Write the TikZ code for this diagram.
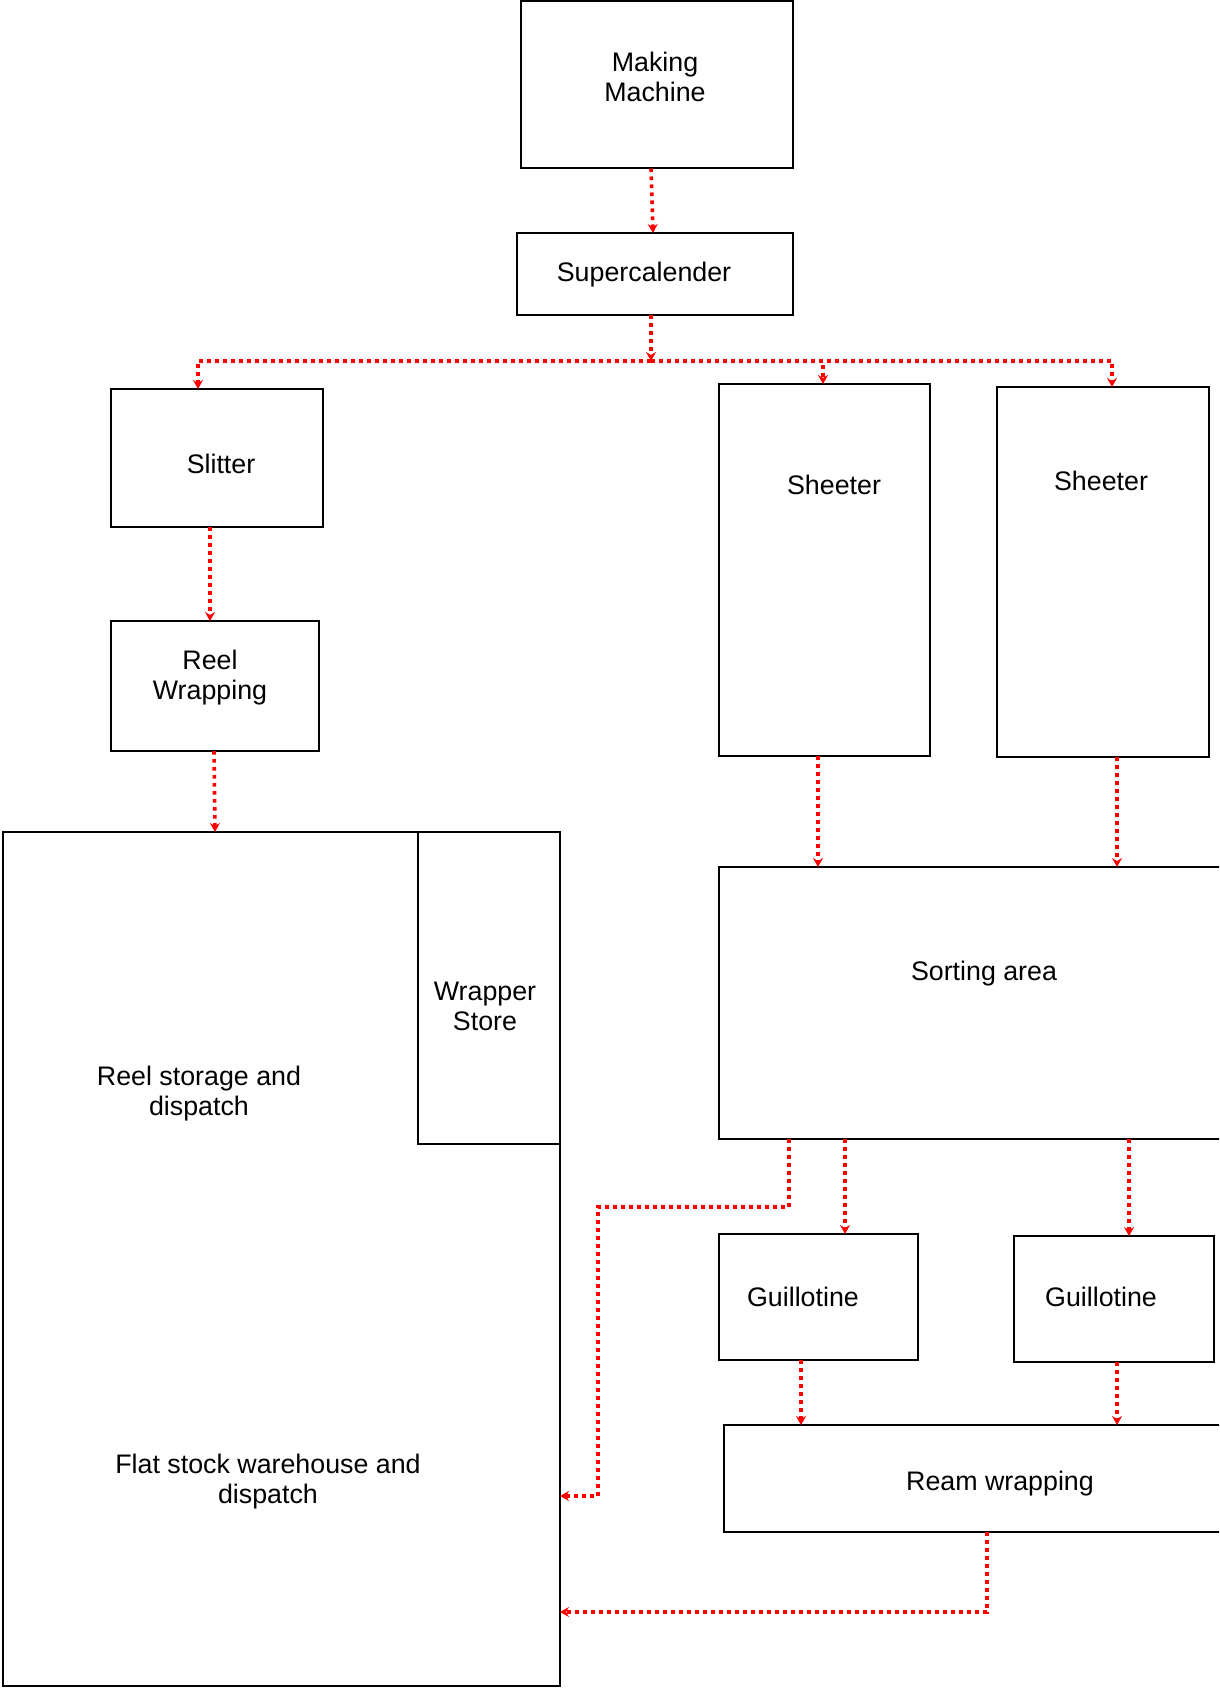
\documentclass[tikz,border=0pt]{standalone}
\usepackage{fontspec}
\setmainfont{Liberation Sans}
\usetikzlibrary{arrows.meta}
\begin{document}
\begin{tikzpicture}[x=1pt,y=-1pt,
  box/.style={draw=black,line width=2pt,anchor=north west,inner sep=0pt,outer sep=0pt},
  lbl/.style={align=center,inner sep=0pt,font=\fontsize{26.8}{30}\selectfont},
  flow/.style={draw=red,line width=3.6pt,dash pattern=on 3.6pt off 4.4pt,
    -{Stealth[length=9pt,width=10pt,inset=3pt]}}]
\useasboundingbox (0,0) rectangle (1219,1688);
\clip (0,0) rectangle (1219,1688);
\fill[white] (0,0) rectangle (1219,1688);

% boxes
\node[box,minimum width=272pt,minimum height=167pt] (mm) at (521,1.5) {};
\node[box,minimum width=276pt,minimum height=82pt] (sc) at (517,233) {};
\node[box,minimum width=212pt,minimum height=138pt] (sl) at (111,389) {};
\node[box,minimum width=208pt,minimum height=130pt] (rw) at (111,621) {};
\node[box,minimum width=211pt,minimum height=372pt] (sh1) at (719,384) {};
\node[box,minimum width=212pt,minimum height=370pt] (sh2) at (997,387) {};
\node[box,minimum width=557pt,minimum height=854pt] (big) at (3,832) {};
\node[box,minimum width=142pt,minimum height=312pt] (ws) at (418,832) {};
\node[box,minimum width=530pt,minimum height=272pt] (sort) at (719,867) {};
\node[box,minimum width=199pt,minimum height=126pt] (g1) at (719,1234) {};
\node[box,minimum width=200pt,minimum height=126pt] (g2) at (1014,1236) {};
\node[box,minimum width=525pt,minimum height=107pt] (rm) at (724,1425) {};

% labels
\node[lbl] (tmm) at (655,77) {Making\\Machine};
\node[lbl] (tsc) at (644,275) {Supercalender};
\node[lbl] (tsl) at (221,464) {Slitter};
\node[lbl] (trw) at (210,678) {Reel\\Wrapping};
\node[lbl] (tsh1) at (834,485) {Sheeter};
\node[lbl] (tsh2) at (1101,481) {Sheeter};
\node[lbl] (tws) at (485,1006) {Wrapper\\Store};
\node[lbl] (trs) at (199,1094) {Reel storage and\\dispatch};
\node[lbl] (tfs) at (268,1482) {Flat stock warehouse and\\dispatch};
\node[lbl] (tsort) at (984,974) {Sorting area};
\node[lbl] (tg1) at (803,1297) {Guillotine};
\node[lbl] (tg2) at (1101,1297) {Guillotine};
\node[lbl] (trm) at (1000,1484) {Ream wrapping};

% routing points
\coordinate (bus) at (651,361);
\coordinate (c1) at (789,1207);
\coordinate (c2) at (598,1207);
\coordinate (c3) at (598,1496);
\coordinate (c4) at (987,1612);

% connectors
\draw[flow] ([xshift=-6pt]mm.south) -- ([xshift=-2pt]sc.north);
\draw[flow] ([xshift=-4pt]sc.south) -- (bus);
\draw[flow] (bus) -| ([xshift=-19pt]sl.north);
\draw[flow] (bus) -| ([xshift=-1.5pt]sh1.north);
\draw[flow] (bus) -| ([xshift=9pt]sh2.north);
\draw[flow] ([xshift=-7pt]sl.south) -- ([xshift=-5pt]rw.north);
\draw[flow] ([xshift=-1pt]rw.south) -- (rw.south |- big.north);
\draw[flow] ([xshift=-6.5pt]sh1.south) -- ([xshift=-6.5pt]sh1.south |- sort.north);
\draw[flow] ([xshift=14pt]sh2.south) -- ([xshift=14pt]sh2.south |- sort.north);
\draw[flow] (c1 |- sort.south) -- (c1) -- (c2) -- (c3) -- (c3 -| big.east);
\draw[flow] ([xshift=126pt]sort.south west) -- ([xshift=126pt]sort.south west |- g1.north);
\draw[flow] ([xshift=410pt]sort.south west) -- ([xshift=410pt]sort.south west |- g2.north);
\draw[flow] ([xshift=-17.5pt]g1.south) -- ([xshift=-17.5pt]g1.south |- rm.north);
\draw[flow] ([xshift=3pt]g2.south) -- ([xshift=3pt]g2.south |- rm.north);
\draw[flow] (c4 |- rm.south) -- (c4) -- (c4 -| big.east);
\end{tikzpicture}
\end{document}
